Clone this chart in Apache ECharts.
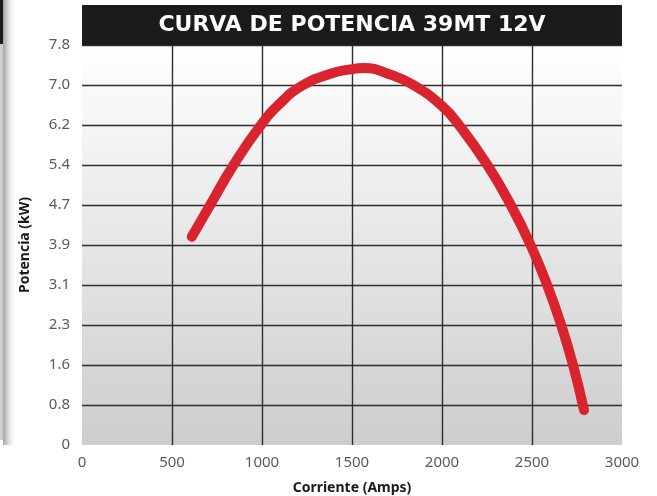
<!DOCTYPE html>
<html>
<head>
<meta charset="utf-8">
<script src="https://cdn.jsdelivr.net/npm/echarts@6/dist/echarts.min.js"></script>
<style>
html,body{margin:0;padding:0;background:#fff;}
#c{width:657px;height:496px;}
</style>
</head>
<body>
<div id="c"></div>
<script>
// Data
const currentAmps = [610, 712, 842, 990, 1100, 1220, 1380, 1500, 1570, 1700, 1841, 2000, 2094, 2252, 2382, 2492, 2584, 2662, 2728, 2789];
const powerKW     = [4.06, 4.68, 5.46, 6.22, 6.66, 7.00, 7.24, 7.33, 7.35, 7.24, 7.02, 6.61, 6.24, 5.46, 4.68, 3.90, 3.12, 2.34, 1.56, 0.68];
const yTickLabels = ['0', '0.8', '1.6', '2.3', '3.1', '3.9', '4.7', '5.4', '6.2', '7.0', '7.8'];
const xTicks = { min: 0, max: 3000, interval: 500 };
const titleText = 'CURVA DE POTENCIA 39MT 12V';
const xName = 'Corriente (Amps)';
const yName = 'Potencia (kW)';

const yStep = 0.78;
const seriesData = currentAmps.map((x, i) => [x, powerKW[i]]);

const chart = echarts.init(document.getElementById('c'));
chart.setOption({
  animation: false,
  backgroundColor: '#ffffff',
  grid: {
    left: 82, right: 35, top: 45, bottom: 51,
    outerBoundsMode: 'none',
    containLabel: false,
    show: true,
    borderWidth: 0,
    backgroundColor: new echarts.graphic.LinearGradient(0, 0, 0, 1, [
      { offset: 0, color: '#ffffff' },
      { offset: 1, color: '#cdcdcd' }
    ])
  },
  xAxis: {
    type: 'value',
    min: xTicks.min, max: xTicks.max, interval: xTicks.interval,
    name: xName,
    nameLocation: 'middle',
    nameGap: 36,
    nameTextStyle: { fontFamily: 'Noto Sans', fontWeight: 'bold', fontSize: 14, color: '#1a1a1a' },
    axisLine: { show: false },
    axisTick: { show: false },
    axisLabel: { fontFamily: 'Noto Sans', fontSize: 15, color: '#5a5a5a', margin: 10, formatter: v => String(v) },
    splitLine: { show: true, showMinLine: false, showMaxLine: false, lineStyle: { color: '#2e2e2e', width: 1.4 } }
  },
  yAxis: {
    type: 'value',
    min: 0, max: yStep * 10, interval: yStep,
    name: yName,
    nameLocation: 'middle',
    nameRotate: 90,
    nameGap: 50,
    nameTextStyle: { fontFamily: 'Noto Sans', fontWeight: 'bold', fontSize: 14, color: '#1a1a1a' },
    axisLine: { show: false },
    axisTick: { show: false },
    axisLabel: {
      fontFamily: 'Noto Sans', fontSize: 15, color: '#5a5a5a', margin: 12,
      formatter: v => yTickLabels[Math.round(v / yStep)] || ''
    },
    splitLine: { show: true, showMinLine: false, showMaxLine: false, lineStyle: { color: '#2e2e2e', width: 1.4 } }
  },
  series: [{
    type: 'line',
    data: seriesData,
    smooth: 0.5,
    showSymbol: false,
    symbol: 'none',
    lineStyle: { color: '#d9232e', width: 10, cap: 'round', join: 'round' },
    z: 5
  }],
  graphic: [
    {
      type: 'rect', left: 82, top: 5, z: 100,
      shape: { width: 540, height: 40 },
      style: { fill: '#1b1b1b' }
    },
    {
      type: 'text', z: 101,
      x: 352, y: 25,
      style: {
        text: titleText, fill: '#ffffff',
        font: 'bold 22px "DejaVu Sans"',
        textAlign: 'center', textVerticalAlign: 'middle'
      }
    },
    {
      type: 'rect', left: 3, top: 0, z: 1,
      shape: { width: 14, height: 445 },
      style: {
        fill: new echarts.graphic.LinearGradient(0, 0, 1, 0, [
          { offset: 0, color: '#a0a0a0' },
          { offset: 1, color: 'rgba(255,255,255,0)' }
        ])
      }
    },
    {
      type: 'rect', left: 0, top: 0, z: 2,
      shape: { width: 3, height: 440 },
      style: { fill: '#c9d0d3' }
    },
    {
      type: 'rect', left: 0, top: 0, z: 3,
      shape: { width: 3, height: 44 },
      style: { fill: '#1b1b1b' }
    }
  ]
});
</script>
</body>
</html>
